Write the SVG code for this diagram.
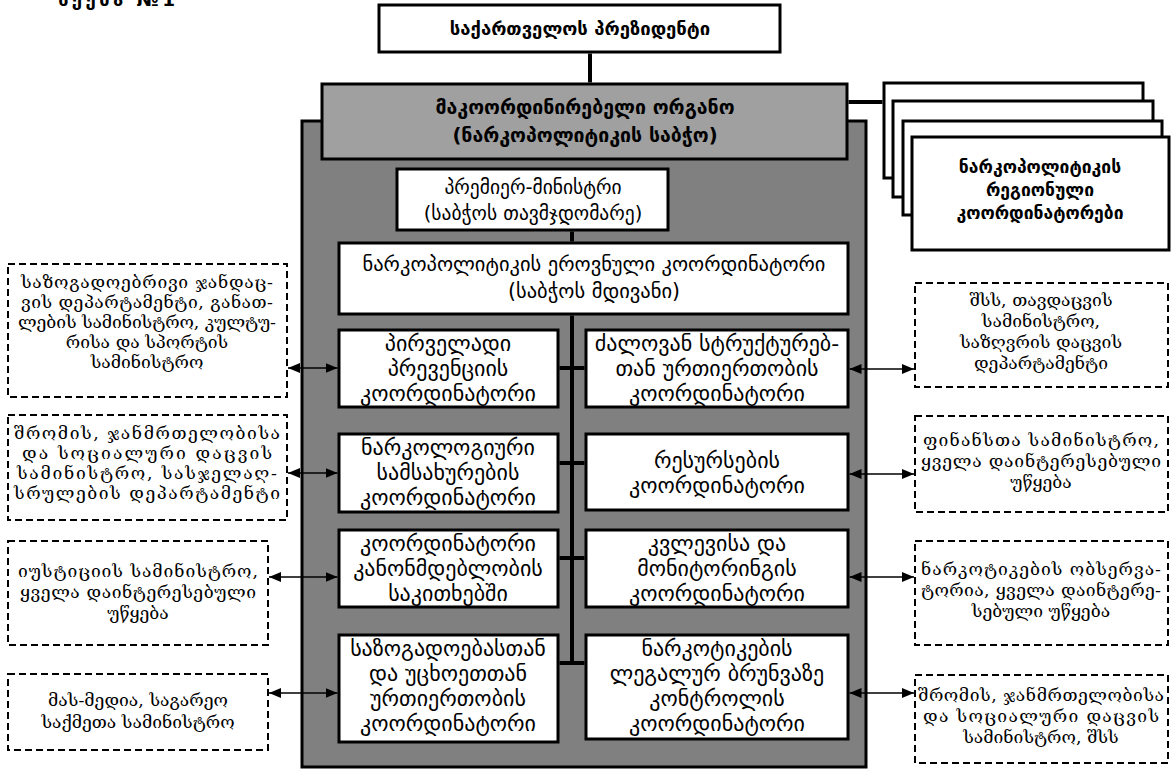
<svg xmlns="http://www.w3.org/2000/svg" width="1171" height="769" viewBox="0 0 1171 769">
<defs>
<style>
.box{fill:#fff;stroke:#000;stroke-width:3}
.dash{fill:#fff;stroke:#000;stroke-width:2;stroke-dasharray:7 4}
.hd{font-family:"DejaVu Sans",sans-serif;font-weight:bold;font-size:18.5px;text-anchor:middle;fill:#000}
.hd2{font-family:"DejaVu Sans",sans-serif;font-weight:bold;font-size:19.5px;text-anchor:middle;fill:#000}
.rg{font-family:"DejaVu Sans",sans-serif;font-weight:bold;font-size:17.5px;text-anchor:middle;fill:#000}
.pm{font-family:"DejaVu Sans",sans-serif;font-size:19.5px;text-anchor:middle;fill:#000}
.nc{font-family:"DejaVu Sans",sans-serif;font-size:20.5px;text-anchor:middle;fill:#000}
.co{font-family:"DejaVu Sans",sans-serif;font-size:22px;text-anchor:middle;fill:#000}
.se{font-family:"DejaVu Serif","DejaVu Sans",serif;font-size:17.5px;text-anchor:middle;fill:#000}
.ln{stroke:#000;stroke-width:4;fill:none}
.ar{stroke:#000;stroke-width:1.5;fill:none;marker-start:url(#ah);marker-end:url(#ah)}
</style>
<marker id="ah" viewBox="0 0 12 10" refX="12" refY="5" markerWidth="12" markerHeight="10" markerUnits="userSpaceOnUse" orient="auto-start-reverse">
<path d="M0,0 L12,5 L0,10 z" fill="#000"/>
</marker>
</defs>
<rect width="1171" height="769" fill="#fff"/>
<text class="hd" x="58" y="6" style="text-anchor:start" textLength="117" lengthAdjust="spacing">სქემა №1</text>

<g id="president">
<rect class="box" x="379" y="5" width="401" height="47"/>
<text class="hd" x="580" y="35">საქართველოს პრეზიდენტი</text>
</g>

<g id="council-bg">
<rect x="302" y="121" width="564" height="646" fill="#808080" stroke="#000" stroke-width="3"/>
</g>

<g id="council">
<rect x="322" y="84" width="525" height="75" fill="#a0a0a0" stroke="#000" stroke-width="3"/>
<text class="hd2" x="585" y="114">მაკოორდინირებელი ორგანო</text>
<text class="hd2" x="585" y="142">(ნარკოპოლიტიკის საბჭო)</text>
</g>

<g id="regional">
<rect class="box" x="884" y="83" width="259" height="95"/>
<rect class="box" x="893" y="101" width="260" height="96"/>
<rect class="box" x="903" y="121" width="259" height="94"/>
<rect class="box" x="912" y="137" width="257" height="113"/>
<text class="rg" x="1040" y="173">ნარკოპოლიტიკის</text>
<text class="rg" x="1040" y="196">რეგიონული</text>
<text class="rg" x="1040" y="219">კოორდინატორები</text>
</g>

<g id="premier">
<rect class="box" x="397" y="169" width="271" height="61"/>
<text class="pm" x="533" y="194">პრემიერ-მინისტრი</text>
<text class="pm" x="533" y="220">(საბჭოს  თავმჯდომარე)</text>
</g>

<g id="national">
<rect class="box" x="339" y="243" width="509" height="71"/>
<text class="nc" x="594" y="271">ნარკოპოლიტიკის ეროვნული კოორდინატორი</text>
<text class="nc" x="594" y="298">(საბჭოს მდივანი)</text>
</g>

<g id="primary-prevention">
<rect class="box" x="339" y="330" width="219" height="77"/>
<text class="co" x="448" y="351">პირველადი</text>
<text class="co" x="448" y="376">პრევენციის</text>
<text class="co" x="448" y="401">კოორდინატორი</text>
</g>

<g id="power-structures">
<rect class="box" x="586" y="330" width="262" height="77"/>
<text class="co" x="717" y="351">ძალოვან სტრუქტურებ-</text>
<text class="co" x="717" y="376">თან ურთიერთობის</text>
<text class="co" x="717" y="401">კოორდინატორი</text>
</g>

<g id="narcology">
<rect class="box" x="339" y="434" width="219" height="78"/>
<text class="co" x="448" y="455">ნარკოლოგიური</text>
<text class="co" x="448" y="480">სამსახურების</text>
<text class="co" x="448" y="505">კოორდინატორი</text>
</g>

<g id="resources">
<rect class="box" x="586" y="434" width="262" height="76"/>
<text class="co" x="717" y="468">რესურსების</text>
<text class="co" x="717" y="493">კოორდინატორი</text>
</g>

<g id="legislation">
<rect class="box" x="339" y="530" width="219" height="77"/>
<text class="co" x="448" y="551">კოორდინატორი</text>
<text class="co" x="448" y="576">კანონმდებლობის</text>
<text class="co" x="448" y="601">საკითხებში</text>
</g>

<g id="research">
<rect class="box" x="586" y="530" width="262" height="77"/>
<text class="co" x="717" y="551">კვლევისა და</text>
<text class="co" x="717" y="576">მონიტორინგის</text>
<text class="co" x="717" y="601">კოორდინატორი</text>
</g>

<g id="public-relations">
<rect class="box" x="339" y="635" width="219" height="107"/>
<text class="co" x="448" y="656">საზოგადოებასთან</text>
<text class="co" x="448" y="681">და უცხოეთთან</text>
<text class="co" x="448" y="706">ურთიერთობის</text>
<text class="co" x="448" y="731">კოორდინატორი</text>
</g>

<g id="legal-turnover">
<rect class="box" x="586" y="635" width="262" height="104"/>
<text class="co" x="717" y="656">ნარკოტიკების</text>
<text class="co" x="717" y="681">ლეგალურ ბრუნვაზე</text>
<text class="co" x="717" y="706">კონტროლის</text>
<text class="co" x="717" y="731">კოორდინატორი</text>
</g>

<g id="left-1">
<rect class="dash" x="8" y="264" width="279" height="133"/>
<text class="se" x="147" y="288" textLength="252" lengthAdjust="spacing">საზოგადოებრივი ჯანდაც-</text>
<text class="se" x="147" y="308" textLength="252" lengthAdjust="spacing">ვის დეპარტამენტი, განათ-</text>
<text class="se" x="147" y="328" textLength="258" lengthAdjust="spacing">ლების სამინისტრო, კულტუ-</text>
<text class="se" x="147" y="348">რისა და სპორტის</text>
<text class="se" x="147" y="368">სამინისტრო</text>
</g>

<g id="left-2">
<rect class="dash" x="8" y="415" width="279" height="105"/>
<text class="se" x="147" y="439" textLength="266" lengthAdjust="spacing">შრომის, ჯანმრთელობისა</text>
<text class="se" x="147" y="459" textLength="250" lengthAdjust="spacing">და სოციალური დაცვის</text>
<text class="se" x="147" y="479" textLength="260" lengthAdjust="spacing">სამინისტრო, სასჯელაღ-</text>
<text class="se" x="147" y="499" textLength="266" lengthAdjust="spacing">სრულების დეპარტამენტი</text>
</g>

<g id="left-3">
<rect class="dash" x="8" y="541" width="260" height="104"/>
<text class="se" x="138" y="577" textLength="240" lengthAdjust="spacing">იუსტიციის სამინისტრო,</text>
<text class="se" x="138" y="598" textLength="236" lengthAdjust="spacing">ყველა დაინტერესებული</text>
<text class="se" x="138" y="619">უწყება</text>
</g>

<g id="left-4">
<rect class="dash" x="8" y="674" width="260" height="76"/>
<text class="se" x="138" y="706">მას-მედია, საგარეო</text>
<text class="se" x="138" y="728">საქმეთა სამინისტრო</text>
</g>

<g id="right-1">
<rect class="dash" x="915" y="283" width="253" height="104"/>
<text class="se" x="1041" y="306">შსს, თავდაცვის</text>
<text class="se" x="1041" y="327">სამინისტრო,</text>
<text class="se" x="1041" y="348">საზღვრის დაცვის</text>
<text class="se" x="1041" y="369">დეპარტამენტი</text>
</g>

<g id="right-2">
<rect class="dash" x="915" y="416" width="253" height="96"/>
<text class="se" x="1041" y="446" textLength="236" lengthAdjust="spacing">ფინანსთა სამინისტრო,</text>
<text class="se" x="1041" y="467" textLength="240" lengthAdjust="spacing">ყველა დაინტერესებული</text>
<text class="se" x="1041" y="488">უწყება</text>
</g>

<g id="right-3">
<rect class="dash" x="915" y="541" width="253" height="104"/>
<text class="se" x="1041" y="575" textLength="240" lengthAdjust="spacing">ნარკოტიკების ობსერვა-</text>
<text class="se" x="1041" y="596" textLength="240" lengthAdjust="spacing">ტორია, ყველა დაინტერე-</text>
<text class="se" x="1041" y="617">სებული უწყება</text>
</g>

<g id="right-4">
<rect class="dash" x="915" y="675" width="253" height="88"/>
<text class="se" x="1041" y="701" textLength="246" lengthAdjust="spacing">შრომის, ჯანმრთელობისა</text>
<text class="se" x="1041" y="722" textLength="236" lengthAdjust="spacing">და სოციალური დაცვის</text>
<text class="se" x="1041" y="743">სამინისტრო, შსს</text>
</g>

<g id="connectors">
<path class="ln" d="M590,53.5 V82.5"/>
<path class="ln" d="M848.5,102 H882.5"/>
<path class="ln" d="M572,231.5 V241.5"/>
<path class="ln" d="M572,315.5 V663"/>
<path class="ln" d="M559.5,368 H584.5 M559.5,463 H584.5 M559.5,558 H584.5 M559.5,663 H584.5"/>
<path class="ar" d="M288,368 H337.5"/>
<path class="ar" d="M288,473 H337.5"/>
<path class="ar" d="M269,577 H337.5"/>
<path class="ar" d="M269,693 H337.5"/>
<path class="ar" d="M849.5,369 H914"/>
<path class="ar" d="M849.5,474 H914"/>
<path class="ar" d="M849.5,577 H914"/>
<path class="ar" d="M849.5,693 H914"/>
</g>
</svg>
